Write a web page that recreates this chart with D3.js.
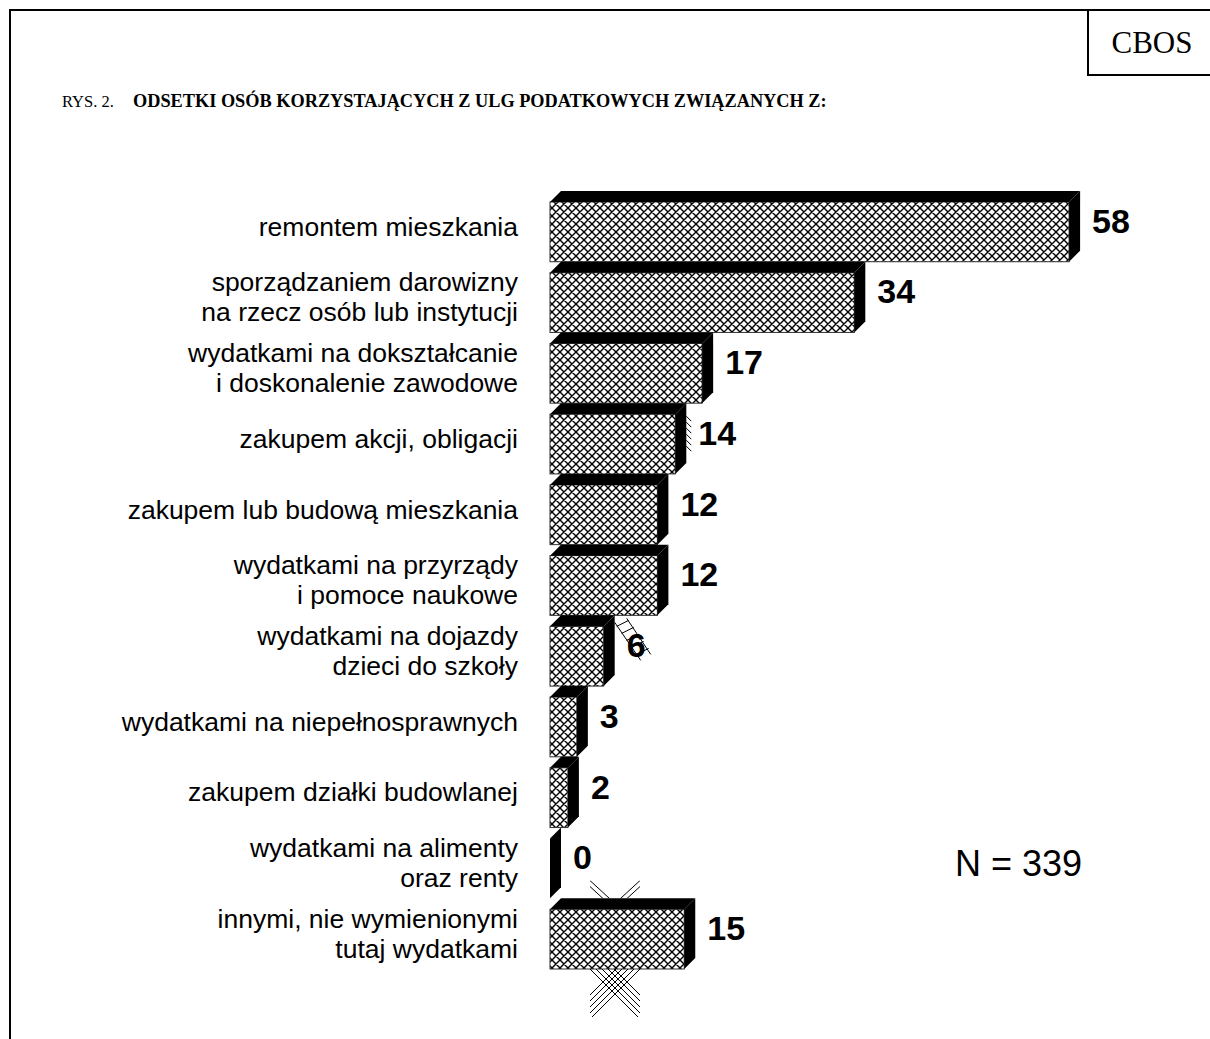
<!DOCTYPE html>
<html>
<head>
<meta charset="utf-8">
<script src="https://cdn.jsdelivr.net/npm/d3@7"></script>
<style>
  body { margin: 0; background: #fff; }
  svg { display: block; }
</style>
</head>
<body>
<div id="chartArea"></div>
<script>
// RYS. 2 - odsetki osob korzystajacych z ulg podatkowych

// data
var categories = [
    ["remontem mieszkania"],
    ["sporządzaniem darowizny", "na rzecz osób lub instytucji"],
    ["wydatkami na dokształcanie", "i doskonalenie zawodowe"],
    ["zakupem akcji, obligacji"],
    ["zakupem lub budową mieszkania"],
    ["wydatkami na przyrządy", "i pomoce naukowe"],
    ["wydatkami na dojazdy", "dzieci do szkoły"],
    ["wydatkami na niepełnosprawnych"],
    ["zakupem działki budowlanej"],
    ["wydatkami na alimenty", "oraz renty"],
    ["innymi, nie wymienionymi", "tutaj wydatkami"]
];
var values = [58, 34, 17, 14, 12, 12, 6, 3, 2, 0, 15];
var titleLead = "RYS. 2.";
var titleText = "ODSETKI OSÓB KORZYSTAJĄCYCH Z ULG PODATKOWYCH ZWIĄZANYCH Z:";
var sourceText = "CBOS";
var noteText = "N = 339";

(function() {

    var width = 1210, height = 1039;
    var depth = 11; // 3d offset of the bars

    var svg = d3.select("#chartArea").append("svg")
        .attr("width", width)
        .attr("height", height);

    // crosshatch fill
    var defs = svg.append("defs");
    var pat = defs.append("pattern")
        .attr("id", "cross")
        .attr("patternUnits", "userSpaceOnUse")
        .attr("width", 8)
        .attr("height", 8);
    pat.append("rect").attr("width", 8).attr("height", 8).attr("fill", "#fff");
    pat.append("path")
        .attr("d", "M0,0L8,8M0,8L8,0M-1,1L1,-1M7,9L9,7M-1,7L1,9M7,-1L9,1")
        .attr("stroke", "#000")
        .attr("stroke-width", 1.4);

    // frame
    svg.append("path")
        .attr("d", "M10,1039V10H1210")
        .attr("fill", "none")
        .attr("stroke", "#000")
        .attr("stroke-width", 2);
    svg.append("path")
        .attr("d", "M1088,10V75H1210")
        .attr("fill", "none")
        .attr("stroke", "#000")
        .attr("stroke-width", 2);
    svg.append("text")
        .attr("x", 1152)
        .attr("y", 53)
        .attr("text-anchor", "middle")
        .attr("font-family", "Liberation Serif, Times New Roman, serif")
        .attr("font-size", "31px")
        .text(sourceText);

    // title
    var title = svg.append("text")
        .attr("x", 62)
        .attr("y", 107)
        .attr("font-family", "Liberation Serif, Times New Roman, serif");
    title.append("tspan")
        .attr("font-size", "16.5px")
        .text(titleLead);
    title.append("tspan")
        .attr("x", 133)
        .attr("font-size", "18.3px")
        .attr("font-weight", "bold")
        .text(titleText);

    // scales
    var x = d3.scaleLinear()
        .domain([0, 100])
        .range([550, 550 + 895]);
    var y = d3.scaleBand()
        .domain(d3.range(categories.length))
        .range([191, 969])
        .padding(0);

    var data = values.map(function(v, i) { return {v: v, lab: categories[i], i: i}; });

    var bars = svg.selectAll(".bar")
        .data(data)
        .enter().append("g")
        .attr("class", "bar");

    // front face
    bars.filter(function(d) { return d.v > 0; })
        .append("rect")
        .attr("x", x(0))
        .attr("y", function(d) { return y(d.i) + depth; })
        .attr("width", function(d) { return x(d.v) - x(0); })
        .attr("height", y.bandwidth() - depth)
        .attr("fill", "url(#cross)")
        .attr("stroke", "#333")
        .attr("stroke-width", 1);

    // top face
    bars.filter(function(d) { return d.v > 0; })
        .append("path")
        .attr("d", function(d) {
            var x0 = x(0), x1 = x(d.v), t = y(d.i) + depth;
            return "M" + x0 + "," + t + "L" + (x0 + depth) + "," + (t - depth) +
                "L" + (x1 + depth) + "," + (t - depth) + "L" + x1 + "," + t + "Z";
        })
        .attr("fill", "#000");

    // right face
    bars.append("path")
        .attr("d", function(d) {
            var x1 = x(d.v), t = y(d.i) + depth, b = y(d.i) + y.bandwidth();
            return "M" + x1 + "," + t + "L" + (x1 + depth) + "," + (t - depth) +
                "L" + (x1 + depth) + "," + (b - depth) + "L" + x1 + "," + b + "Z";
        })
        .attr("fill", "#000");

    // stray hatch bits from the original print
    var stray = svg.append("g")
        .attr("stroke", "#000")
        .attr("stroke-width", 1)
        .attr("fill", "none");
    // next to bar 14
    var s4 = y(3) + depth;
    for (var k = 0; k < 6; k++) {
        stray.append("line")
            .attr("x1", x(values[3]) + depth).attr("y1", s4 + 2 + k * 6)
            .attr("x2", x(values[3]) + depth + 5).attr("y2", s4 + 7 + k * 6);
    }
    // behind the 6
    var s6 = y(6) + depth;
    var xs6 = x(values[6]) + depth;
    stray.append("line").attr("x1", xs6).attr("y1", s6 - 4).attr("x2", xs6 + 26).attr("y2", s6 + 34);
    stray.append("line").attr("x1", xs6 + 12).attr("y1", s6 - 8).attr("x2", xs6 + 36).attr("y2", s6 + 28);
    for (var k = 0; k < 5; k++) {
        stray.append("line")
            .attr("x1", xs6 + 2 + k * 5).attr("y1", s6 + k * 7)
            .attr("x2", xs6 + 14 + k * 5).attr("y2", s6 - 6 + k * 7);
    }
    // crosses around the last bar
    var cx = x(0) + 65;
    var clipTop = defs.append("clipPath").attr("id", "clipA");
    clipTop.append("rect").attr("x", cx - 26).attr("y", y(9) + 53).attr("width", 52).attr("height", y(10) - y(9) - 53);
    var clipBot = defs.append("clipPath").attr("id", "clipB");
    clipBot.append("rect").attr("x", cx - 26).attr("y", y(10) + y.bandwidth()).attr("width", 52).attr("height", 48);
    var strayA = stray.append("g").attr("clip-path", "url(#clipA)");
    var strayB = stray.append("g").attr("clip-path", "url(#clipB)");
    [0, 6].forEach(function(o) {
        var t = y(9) + 53 + o;
        strayA.append("line").attr("x1", cx - 25).attr("y1", t).attr("x2", cx + 25).attr("y2", t + 46);
        strayA.append("line").attr("x1", cx + 25).attr("y1", t).attr("x2", cx - 25).attr("y2", t + 46);
    });
    [-24, -18, -12, -6, 0].forEach(function(o) {
        var t = y(10) + y.bandwidth() + o;
        strayB.append("line").attr("x1", cx - 25).attr("y1", t).attr("x2", cx + 25).attr("y2", t + 50);
        strayB.append("line").attr("x1", cx + 25).attr("y1", t).attr("x2", cx - 25).attr("y2", t + 50);
    });

    // value labels
    bars.append("text")
        .attr("x", function(d) { return x(d.v) + depth + 12; })
        .attr("y", function(d) { return y(d.i) + y.bandwidth() / 2 - depth / 2; })
        .attr("dy", "0.35em")
        .attr("font-family", "Liberation Sans, Arial, sans-serif")
        .attr("font-weight", "bold")
        .attr("font-size", "34px")
        .text(function(d) { return d.v; });

    // category labels
    var lineH = 30;
    bars.append("text")
        .attr("text-anchor", "end")
        .attr("font-family", "Liberation Sans, Arial, sans-serif")
        .attr("font-size", "26.5px")
        .attr("fill", "#000")
        .each(function(d) {
            var t = d3.select(this);
            var n = d.lab.length;
            var cy = y(d.i) + y.bandwidth() / 2;
            d.lab.forEach(function(s, j) {
                t.append("tspan")
                    .attr("x", 518)
                    .attr("y", cy + (j - (n - 1) / 2) * lineH)
                    .attr("dy", "0.35em")
                    .text(s);
            });
        });

    // sample size
    svg.append("text")
        .attr("x", 955)
        .attr("y", y(9) + y.bandwidth() / 2)
        .attr("dy", "0.35em")
        .attr("font-family", "Liberation Sans, Arial, sans-serif")
        .attr("font-size", "36px")
        .text(noteText);

})()
</script>
</body>
</html>
